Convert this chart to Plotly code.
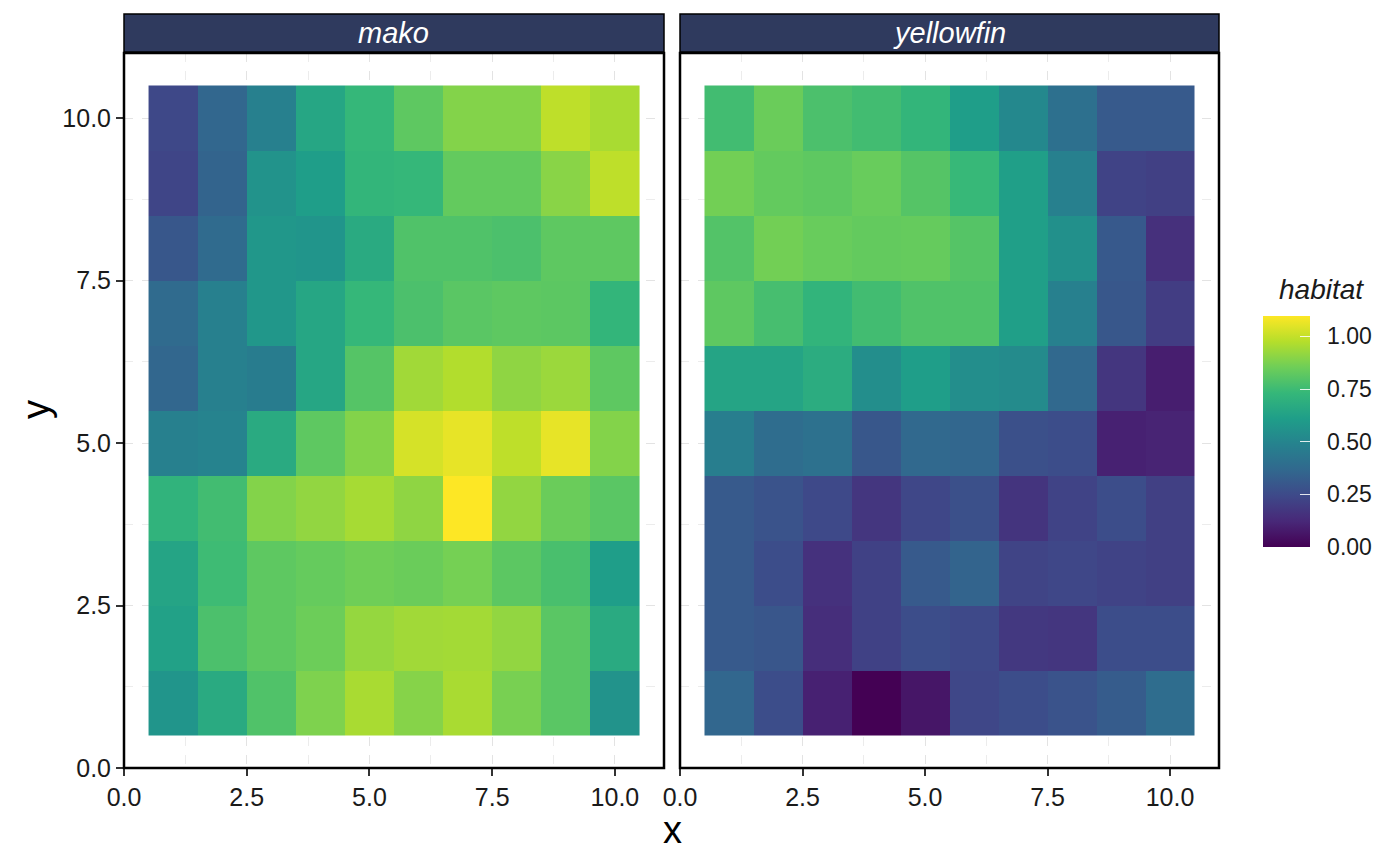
import plotly.graph_objects as go
from plotly.subplots import make_subplots

x_vals = list(range(1, 11))
y_vals = list(range(1, 11))
panels = ["mako", "yellowfin"]

# rows listed from y=1 (bottom) to y=10 (top); each row x=1..10
mako = [
    [0.57, 0.67, 0.79, 0.88, 0.955, 0.895, 0.955, 0.87, 0.81, 0.56],
    [0.625, 0.78, 0.82, 0.85, 0.92, 0.94, 0.945, 0.915, 0.81, 0.67],
    [0.64, 0.75, 0.82, 0.835, 0.855, 0.845, 0.865, 0.815, 0.775, 0.61],
    [0.71, 0.76, 0.89, 0.915, 0.95, 0.91, 1.097, 0.915, 0.845, 0.81],
    [0.48, 0.49, 0.67, 0.82, 0.89, 1.03, 1.06, 0.99, 1.06, 0.89],
    [0.36, 0.48, 0.46, 0.65, 0.80, 0.94, 0.97, 0.91, 0.93, 0.82],
    [0.38, 0.48, 0.58, 0.65, 0.73, 0.78, 0.81, 0.82, 0.815, 0.72],
    [0.30, 0.38, 0.58, 0.57, 0.67, 0.79, 0.79, 0.78, 0.82, 0.82],
    [0.23, 0.35, 0.56, 0.61, 0.72, 0.73, 0.83, 0.83, 0.90, 0.99],
    [0.24, 0.36, 0.48, 0.65, 0.73, 0.82, 0.89, 0.89, 0.99, 0.955],
]

yellowfin = [
    [0.36, 0.26, 0.10, 0.00, 0.065, 0.235, 0.26, 0.285, 0.32, 0.39],
    [0.31, 0.295, 0.145, 0.215, 0.26, 0.245, 0.18, 0.175, 0.26, 0.26],
    [0.31, 0.26, 0.155, 0.215, 0.31, 0.35, 0.225, 0.235, 0.22, 0.21],
    [0.31, 0.285, 0.245, 0.175, 0.235, 0.27, 0.165, 0.22, 0.26, 0.21],
    [0.47, 0.39, 0.41, 0.30, 0.37, 0.36, 0.27, 0.26, 0.10, 0.11],
    [0.64, 0.64, 0.68, 0.54, 0.61, 0.54, 0.525, 0.37, 0.175, 0.09],
    [0.82, 0.77, 0.715, 0.76, 0.79, 0.79, 0.615, 0.48, 0.30, 0.20],
    [0.795, 0.86, 0.84, 0.83, 0.835, 0.80, 0.615, 0.55, 0.305, 0.15],
    [0.86, 0.83, 0.82, 0.84, 0.80, 0.735, 0.615, 0.48, 0.22, 0.21],
    [0.76, 0.845, 0.78, 0.76, 0.72, 0.61, 0.515, 0.405, 0.31, 0.31],
]

tick_vals = [0, 2.5, 5, 7.5, 10]
tick_text = ["0.0", "2.5", "5.0", "7.5", "10.0"]
minor_vals = [1.25, 3.75, 6.25, 8.75]
cbar_vals = [0, 0.25, 0.5, 0.75, 1.0]
cbar_text = ["0.00", "0.25", "0.50", "0.75", "1.00"]

all_vals = [v for r in mako + yellowfin for v in r]
zmin, zmax = min(all_vals), max(all_vals)

FONT = "Liberation Sans, Arial, Helvetica, sans-serif"
W, H = 1400, 865
OX, OY = 8, 8  # page body margin


def px(xp):
    return (xp - OX) / W


def py(yp):
    return (H - (yp - OY)) / H


fig = make_subplots(rows=1, cols=2, shared_yaxes=True)
fig.add_trace(go.Heatmap(x=x_vals, y=y_vals, z=mako, coloraxis="coloraxis"), row=1, col=1)
fig.add_trace(go.Heatmap(x=x_vals, y=y_vals, z=yellowfin, coloraxis="coloraxis2"), row=1, col=2)

dom_y = [py(768), py(53)]
dom_x1 = [px(124), px(664)]
dom_x2 = [px(680), px(1219)]

axis_common = dict(
    range=[0, 11], tickvals=tick_vals, ticktext=tick_text,
    showgrid=True, gridcolor="#e3e3e3", gridwidth=0.8, griddash="dash",
    minor=dict(tickvals=minor_vals, showgrid=True, gridcolor="#ececec",
               gridwidth=0.6, griddash="dash"),
    ticks="outside", ticklen=7, tickwidth=2, tickcolor="#333333",
    tickfont=dict(family=FONT, size=25, color="#1a1a1a"),
    zeroline=False, showline=False, automargin=False,
)

cb_common = dict(
    x=px(1263), xanchor="left", xref="paper",
    y=py(431.5), yanchor="middle", yref="paper",
    thickness=47, thicknessmode="pixels",
    len=231, lenmode="pixels",
    outlinewidth=0, xpad=0, ypad=0,
    tickvals=cbar_vals, ticktext=cbar_text,
)

fig.update_layout(
    width=W, height=H,
    margin=dict(l=0, r=0, t=0, b=0, autoexpand=False),
    plot_bgcolor="white", paper_bgcolor="white",
    xaxis=dict(domain=dom_x1, **axis_common),
    xaxis2=dict(domain=dom_x2, **axis_common),
    yaxis=dict(domain=dom_y, **axis_common),
    yaxis2=dict(domain=dom_y, **{**axis_common, "showticklabels": False, "ticks": ""}),
    coloraxis=dict(
        colorscale="Viridis", cmin=zmin, cmax=zmax,
        colorbar=dict(
            **cb_common,
            ticks="outside", ticklen=13, tickcolor="white", tickwidth=1,
            tickfont=dict(family=FONT, size=23, color="#1a1a1a"),
        ),
    ),
    coloraxis2=dict(
        colorscale="Viridis", cmin=zmin, cmax=zmax,
        colorbar=dict(
            **cb_common,
            ticks="inside", ticklen=10, tickcolor="rgba(255,255,255,0.85)", tickwidth=1.2,
            showticklabels=False,
        ),
    ),
    showlegend=False,
)

fig.add_annotation(xref="paper", yref="paper", x=px(1277), y=py(290),
                   text="<i>habitat</i>", showarrow=False, xanchor="left", yanchor="middle",
                   font=dict(family=FONT, size=28, color="#1a1a1a"))

# panel borders and strips
strip_y0 = py(52)
strip_y1 = py(14)
for dom, name in [(dom_x1, panels[0]), (dom_x2, panels[1])]:
    fig.add_shape(type="rect", xref="paper", yref="paper",
                  x0=dom[0], x1=dom[1], y0=dom_y[0], y1=dom_y[1],
                  line=dict(color="black", width=2.5), fillcolor="rgba(0,0,0,0)", layer="above")
    fig.add_shape(type="rect", xref="paper", yref="paper",
                  x0=dom[0], x1=dom[1], y0=strip_y0, y1=strip_y1,
                  line=dict(color="black", width=1.5), fillcolor="#2f3a5e", layer="above")
    fig.add_annotation(xref="paper", yref="paper", x=(dom[0] + dom[1]) / 2,
                       y=(strip_y0 + strip_y1) / 2, text=f"<i>{name}</i>",
                       showarrow=False, xanchor="center", yanchor="middle",
                       font=dict(family=FONT, size=29, color="white"))

fig.add_annotation(xref="paper", yref="paper", x=px(672), y=py(830),
                   text="x", showarrow=False, xanchor="center", yanchor="middle",
                   font=dict(family=FONT, size=38, color="black"))
fig.add_annotation(xref="paper", yref="paper", x=px(36), y=py(410),
                   text="y", showarrow=False, textangle=-90, xanchor="center", yanchor="middle",
                   font=dict(family=FONT, size=38, color="black"))

fig.write_html("out.html")
